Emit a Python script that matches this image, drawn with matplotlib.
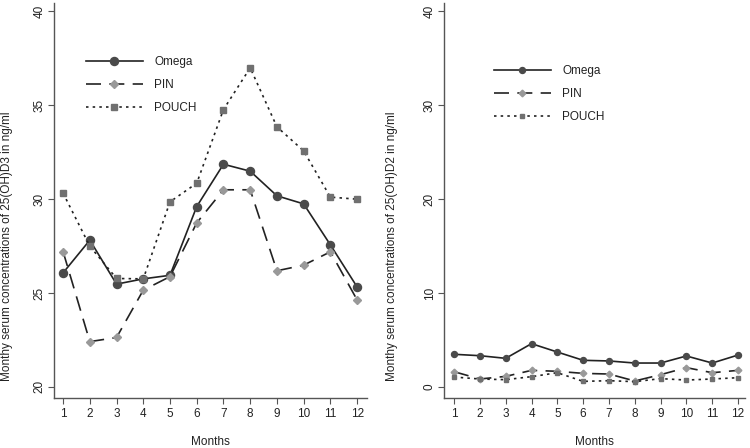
import matplotlib
matplotlib.use("Agg")
import matplotlib.pyplot as plt

plt.rcParams['font.family'] = ['Liberation Sans', 'DejaVu Sans']

months = list(range(1, 13))
labels = ["Omega", "PIN", "POUCH"]

d3_omega = [26.07, 27.81, 25.47, 25.75, 25.94, 29.60, 31.85, 31.48, 30.17, 29.74, 27.56, 25.32]
d3_pin   = [27.20, 22.41, 22.63, 25.15, 25.87, 28.73, 30.49, 30.49, 26.18, 26.48, 27.19, 24.63]
d3_pouch = [30.31, 27.49, 25.77, 25.75, 29.85, 30.84, 34.76, 36.98, 33.84, 32.56, 30.10, 29.99]

d2_omega = [3.48, 3.33, 3.05, 4.61, 3.72, 2.84, 2.77, 2.55, 2.55, 3.30, 2.55, 3.40]
d2_pin   = [1.63, 0.85, 1.13, 1.77, 1.67, 1.45, 1.38, 0.64, 1.31, 2.06, 1.52, 1.77]
d2_pouch = [1.06, 0.85, 0.78, 1.10, 1.52, 0.60, 0.67, 0.57, 0.89, 0.74, 0.85, 0.99]

W, H = 750, 448
fig = plt.figure(figsize=(7.5, 4.48), dpi=100)

def add_ax(l, r, t, b):
    return fig.add_axes([l / W, 1 - b / H, (r - l) / W, (b - t) / H])

ax1 = add_ax(54, 367, 3, 398)
ax2 = add_ax(444, 745, 3, 398)

fs = 8.5

def draw(ax, om, pin, pouch, ms_c, ms_d, ms_s):
    ax.plot(months, om, '-', color='#222222', lw=1.2, marker='o', ms=ms_c,
            mfc='#4a4a4a', mec='#4a4a4a', label=labels[0])
    ax.plot(months, pin, color='#222222', lw=1.2, dashes=(9, 5), marker='D', ms=ms_d,
            mfc='#999999', mec='#999999', label=labels[1])
    ax.plot(months, pouch, color='#222222', lw=1.2, dashes=(1.5, 2.5), marker='s', ms=ms_s,
            mfc='#707070', mec='#707070', label=labels[2])
    for s in ['top', 'right']:
        ax.spines[s].set_visible(False)
    for s in ['left', 'bottom']:
        ax.spines[s].set_color('#555555')
        ax.spines[s].set_linewidth(1.0)
    ax.set_xticks(months)
    ax.tick_params(axis='both', direction='out', length=4, width=0.8, color='#555555',
                   labelsize=fs, labelcolor='#222222')
    ax.tick_params(axis='y', pad=2)
    ax.set_xlabel("Months", fontsize=fs, color='#222222', va='center')
    ax.xaxis.set_label_coords(0.5, -0.111)

draw(ax1, d3_omega, d3_pin, d3_pouch, 5.8, 4.2, 3.8)
ax1.set_xlim(0.66, 12.37)
ax1.set_ylim(19.41, 40.43)
ax1.set_yticks([20, 25, 30, 35, 40])
ax1.set_ylabel("Monthy serum concentrations of 25(OH)D3 in ng/ml", fontsize=fs, color='#222222', va='center')
ax1.yaxis.set_label_coords(-0.150, 0.385)

draw(ax2, d2_omega, d2_pin, d2_pouch, 4.3, 3.4, 3.2)
ax2.set_xlim(0.61, 12.27)
ax2.set_ylim(-1.17, 40.85)
ax2.set_yticks([0, 10, 20, 30, 40])
ax2.set_ylabel("Monthy serum concentrations of 25(OH)D2 in ng/ml", fontsize=fs, color='#222222', va='center')
ax2.yaxis.set_label_coords(-0.173, 0.385)

for ax in (ax1, ax2):
    for lab in ax.get_yticklabels():
        lab.set_rotation(90)
        lab.set_va('center')

for ax, bx, by in [(ax1, 0.102, 0.792), (ax2, 0.166, 0.770)]:
    leg = ax.legend(loc='center left', bbox_to_anchor=(bx, by), frameon=False,
                    fontsize=fs, handlelength=4.8, handletextpad=1.0,
                    labelspacing=0.95, borderpad=0, borderaxespad=0)
    for t in leg.get_texts():
        t.set_color('#222222')

fig.savefig("out.png", dpi=100)
